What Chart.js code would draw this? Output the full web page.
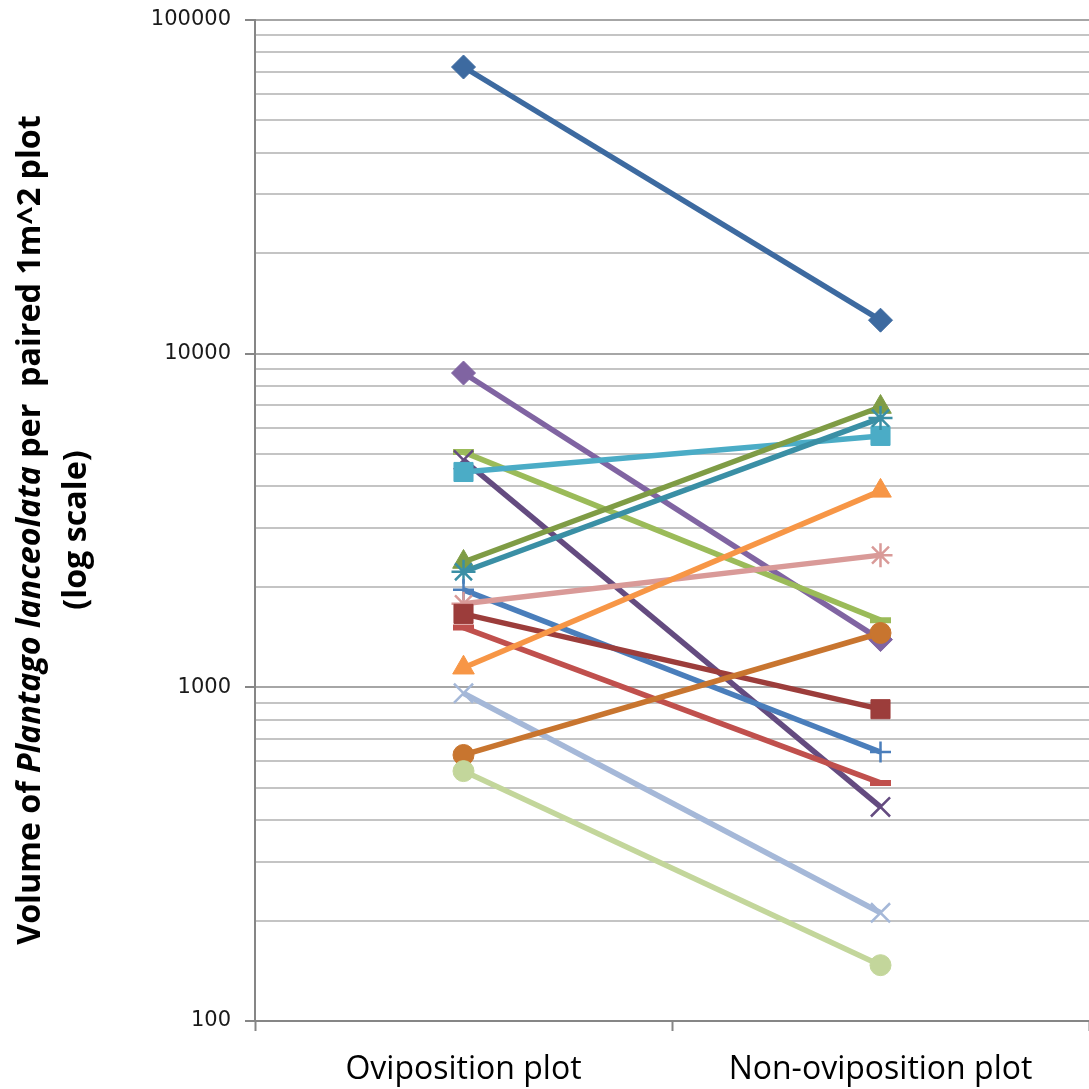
<!DOCTYPE html>
<html>
<head>
<meta charset="utf-8">
<script src="https://cdn.jsdelivr.net/npm/chart.js@4/dist/chart.umd.min.js"></script>
<style>
  html, body { margin: 0; padding: 0; background: #fff; overflow: hidden; }
  canvas { display: block; }
</style>
</head>
<body>
<canvas id="plot" width="1089" height="1089"></canvas>
<script>
const categories = ['Oviposition plot', 'Non-oviposition plot'];

// one value per plot pair, same order in both arrays
const oviposition    = [72300, 8750, 5070, 4800, 4420, 2375, 2220, 1960, 1780, 1660, 1510, 1145, 960, 627, 561];
const nonOviposition = [12600, 1390, 1590, 438, 5670, 6920, 6410, 640, 2490, 860, 517, 3880, 211, 1455, 147];

const colors = ['#3D6AA0', '#8064A2', '#9BBB59', '#644B80', '#4BACC6', '#7F9C45', '#3A8FA5', '#4A7EBB',
                '#D99A98', '#9C3D3B', '#C0504D', '#F79646', '#A5B8D8', '#C8752F', '#C3D69B'];
const markers = ['rectRot', 'rectRot', 'line', 'crossRot', 'rect', 'triangle', 'star', 'cross',
                 'star', 'rect', 'line', 'triangle', 'crossRot', 'circle', 'circle'];

const yTicks = [100, 1000, 10000, 100000];

// marker size / stroke per style
const markerSize = { rectRot: 12, rect: 13.5, triangle: 12.5, crossRot: 13.5, cross: 10.5, star: 12, circle: 10.5, line: 10.5 };
const markerStroke = { rectRot: 1, rect: 1, triangle: 1, crossRot: 2.5, cross: 2.5, star: 2.5, circle: 1, line: 6 };

const datasets = oviposition.map((v, i) => ({
  data: [v, nonOviposition[i]],
  borderColor: colors[i],
  backgroundColor: colors[i],
  borderWidth: 5.5,
  pointStyle: markers[i],
  pointRadius: markerSize[markers[i]],
  pointBorderWidth: markerStroke[markers[i]],
  pointBackgroundColor: colors[i],
  pointBorderColor: colors[i],
  tension: 0
})).reverse();

// all 1..9 multiples between 100 and 100000 for the minor grid
const gridValues = [];
for (let d = 100; d < 100000; d *= 10) {
  for (let m = 1; m < 10; m++) gridValues.push(d * m);
}
gridValues.push(100000);

const isMajor = v => yTicks.includes(v);

// y axis title with italic species name
const yTitle = {
  id: 'yTitle',
  afterDraw(chart) {
    const ctx = chart.ctx;
    const parts = [
      ['Volume of ', 'normal'],
      ['Plantago lanceolata', 'italic'],
      [' per  paired 1m^2 plot', 'normal']
    ];
    const fam = '"Open Sans", "DejaVu Sans", sans-serif';
    let size = 28;
    ctx.save();
    const widthAt = s => parts.reduce((w, p) => {
      ctx.font = p[1] + ' bold ' + s + 'px ' + fam;
      return w + ctx.measureText(p[0]).width;
    }, 0);
    size = size * 830 / widthAt(size);
    const total = widthAt(size);
    ctx.translate(0, 530);
    ctx.rotate(-Math.PI / 2);
    ctx.fillStyle = '#000';
    ctx.textBaseline = 'middle';
    ctx.textAlign = 'left';
    let x = -total / 2;
    parts.forEach(p => {
      ctx.font = p[1] + ' bold ' + size + 'px ' + fam;
      ctx.fillText(p[0], x, 31);
      x += ctx.measureText(p[0]).width;
    });
    ctx.font = 'normal bold ' + size + 'px ' + fam;
    ctx.textAlign = 'center';
    ctx.fillText('(log scale)', 0, 77);
    ctx.restore();
  }
};

new Chart(document.getElementById('plot'), {
  type: 'line',
  data: { labels: categories, datasets: datasets },
  options: {
    responsive: false,
    animation: false,
    layout: { autoPadding: false, padding: { top: 20, right: -4, left: 0, bottom: 0 } },
    plugins: { legend: { display: false }, tooltip: { enabled: false } },
    scales: {
      x: {
        type: 'category',
        offset: true,
        grid: { offset: true, drawOnChartArea: false, tickLength: 10, tickColor: '#868686', tickWidth: 2 },
        border: { color: '#868686', width: 2 },
        ticks: { color: '#000', padding: 20, font: { family: '"Open Sans", sans-serif', size: 32 } },
        afterFit: s => { s.height = 68; s.paddingLeft = 0; s.paddingRight = 0; }
      },
      y: {
        type: 'logarithmic',
        min: 100,
        max: 100000,
        afterBuildTicks: s => { s.ticks = gridValues.map(v => ({ value: v })); },
        grid: {
          color: ctx => isMajor(ctx.tick.value) ? '#a6a6a6' : '#c4c4c4',
          lineWidth: 2,
          tickLength: 10,
          tickColor: ctx => isMajor(ctx.tick.value) ? '#868686' : 'rgba(0,0,0,0)',
          tickWidth: 2
        },
        border: { color: '#868686', width: 2 },
        ticks: {
          autoSkip: false,
          color: '#1a1a1a',
          padding: 14,
          font: { family: '"DejaVu Sans", sans-serif', size: 21 },
          callback: v => isMajor(v) ? String(v) : ''
        },
        afterFit: s => { s.width = 255; s.paddingTop = 0; s.paddingBottom = 0; }
      }
    }
  },
  plugins: [yTitle]
});
</script>
</body>
</html>
